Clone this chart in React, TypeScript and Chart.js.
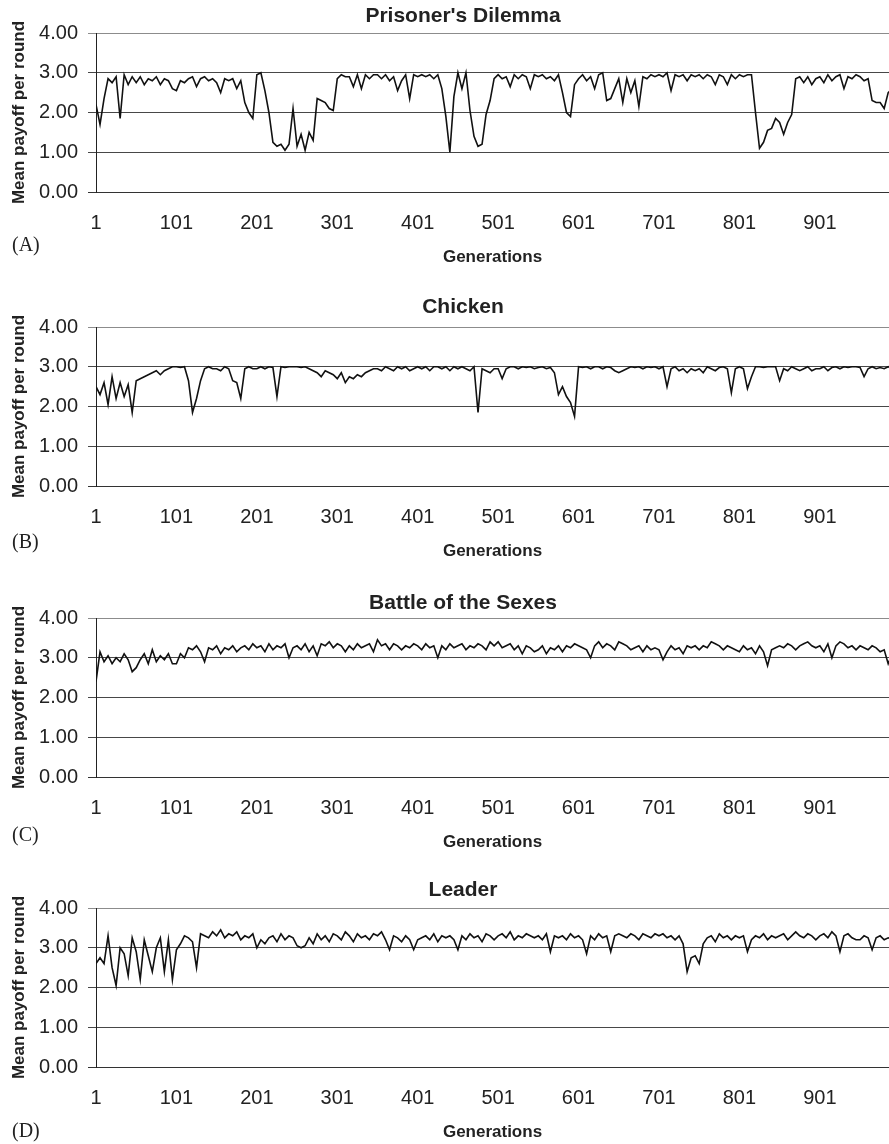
import React, { useEffect, useRef } from "react";
import { Chart, registerables } from "chart.js";

Chart.register(...registerables);

// ---------- DATA ----------
// generations sampled every 5 generations (1, 6, 11, ... 996)
const generations: number[] = Array.from({ length: 200 }, (_, i) => 1 + 5 * i);
const xTickLabels: number[] = [1, 101, 201, 301, 401, 501, 601, 701, 801, 901];
const yTickValues: number[] = [0, 1, 2, 3, 4];
const panelTitles: string[] = ["Prisoner's Dilemma", "Chicken", "Battle of the Sexes", "Leader"];
const panelLetters: string[] = ["(A)", "(B)", "(C)", "(D)"];
const xAxisTitle = "Generations";
const yAxisTitle = "Mean payoff per round";

const prisonersDilemma: number[] = [
  2.2, 1.7, 2.35, 2.85, 2.75, 2.9, 1.85, 2.95, 2.7, 2.9,
  2.75, 2.9, 2.7, 2.85, 2.8, 2.9, 2.7, 2.85, 2.8, 2.6,
  2.55, 2.8, 2.75, 2.85, 2.9, 2.65, 2.85, 2.9, 2.8, 2.85,
  2.75, 2.5, 2.85, 2.8, 2.85, 2.6, 2.8, 2.25, 2.0, 1.85,
  2.95, 3.0, 2.55, 2.0, 1.25, 1.15, 1.2, 1.05, 1.2, 2.1,
  1.15, 1.45, 1.05, 1.5, 1.3, 2.35, 2.3, 2.25, 2.1, 2.05,
  2.85, 2.95, 2.9, 2.9, 2.65, 2.95, 2.6, 2.95, 2.85, 2.95,
  2.95, 2.85, 2.95, 2.8, 2.9, 2.55, 2.8, 2.95, 2.35, 2.95,
  2.9, 2.95, 2.9, 2.95, 2.85, 2.95, 2.6, 1.9, 1.0, 2.4,
  3.0, 2.6, 3.0, 2.05, 1.4, 1.15, 1.2, 1.95, 2.3, 2.85,
  2.95, 2.85, 2.9, 2.65, 2.95, 2.85, 2.95, 2.9, 2.6, 2.95,
  2.9, 2.95, 2.85, 2.9, 2.8, 2.95, 2.5, 2.0, 1.9, 2.7,
  2.85, 2.95, 2.8, 2.9, 2.6, 2.95, 3.0, 2.3, 2.35, 2.6,
  2.85, 2.25, 2.85, 2.5, 2.8, 2.15, 2.9, 2.85, 2.95, 2.9,
  2.95, 2.9, 3.0, 2.55, 2.95, 2.9, 2.95, 2.8, 2.95, 2.9,
  2.95, 2.85, 2.95, 2.9, 2.7, 2.95, 2.9, 2.7, 2.95, 2.85,
  2.95, 2.9, 2.95, 2.95, 2.0, 1.1, 1.25, 1.55, 1.6, 1.85,
  1.75, 1.45, 1.75, 1.95, 2.85, 2.9, 2.75, 2.9, 2.7, 2.85,
  2.9, 2.75, 2.95, 2.8, 2.9, 2.95, 2.6, 2.9, 2.85, 2.95,
  2.9, 2.8, 2.85, 2.3, 2.25, 2.25, 2.1, 2.5, 2.6, 2.6,
];

const chicken: number[] = [
  2.5, 2.3, 2.6, 2.05, 2.75, 2.2, 2.6, 2.25, 2.55, 1.85,
  2.65, 2.7, 2.75, 2.8, 2.85, 2.9, 2.8, 2.9, 2.95, 3.0,
  3.0, 2.98, 3.0, 2.65, 1.85, 2.2, 2.65, 2.95, 3.0, 2.95,
  2.95, 2.9, 3.0, 2.95, 2.65, 2.6, 2.2, 2.95, 3.0, 2.95,
  2.95, 3.0, 2.95, 3.0, 2.98, 2.25, 3.0, 2.98, 3.0, 3.0,
  3.0, 2.98, 3.0, 2.95, 2.9, 2.85, 2.75, 2.9, 2.85, 2.8,
  2.7, 2.85, 2.6, 2.75, 2.7, 2.8, 2.75, 2.85, 2.9, 2.95,
  2.95, 2.9, 3.0, 2.95, 2.9, 3.0, 2.95, 3.0, 2.9, 2.95,
  3.0, 2.95, 3.0, 2.9, 3.0, 3.0, 2.95, 3.0, 2.9, 3.0,
  2.95, 3.0, 2.95, 2.9, 3.0, 1.85, 2.95, 2.9, 2.85, 2.95,
  2.95, 2.7, 2.95, 3.0, 3.0, 2.95, 3.0, 2.98, 3.0, 2.95,
  2.98, 3.0, 2.95, 2.98, 2.85, 2.3, 2.5, 2.25, 2.1, 1.75,
  3.0, 2.98, 3.0, 2.95, 3.0, 3.0, 2.95, 3.0, 2.98, 2.9,
  2.85, 2.9, 2.95, 3.0, 2.98, 3.0, 2.95, 3.0, 2.98, 3.0,
  2.95, 3.0, 2.5, 2.95, 3.0, 2.9, 2.95, 2.85, 2.95, 2.9,
  2.95, 2.85, 3.0, 2.95, 2.9, 2.98, 3.0, 2.95, 2.35, 2.95,
  3.0, 2.95, 2.45, 2.75, 3.0, 3.0, 2.98, 3.0, 3.0, 3.0,
  2.65, 2.95, 2.9, 3.0, 2.95, 2.9, 2.95, 3.0, 2.9, 2.95,
  2.95, 3.0, 2.9, 2.98, 3.0, 2.95, 3.0, 2.98, 3.0, 3.0,
  2.98, 2.75, 2.95, 3.0, 2.95, 2.98, 2.95, 3.0, 2.95, 2.95,
];

const battleOfTheSexes: number[] = [
  2.4, 3.15, 2.9, 3.05, 2.85, 3.0, 2.9, 3.1, 2.95, 2.65,
  2.75, 2.95, 3.1, 2.85, 3.2, 2.9, 3.05, 2.95, 3.1, 2.85,
  2.85, 3.1, 3.0, 3.25, 3.2, 3.3, 3.15, 2.9, 3.25, 3.2,
  3.3, 3.1, 3.25, 3.2, 3.3, 3.15, 3.25, 3.3, 3.2, 3.35,
  3.25, 3.3, 3.15, 3.35, 3.2, 3.3, 3.25, 3.35, 3.0, 3.25,
  3.3, 3.2, 3.35, 3.15, 3.3, 3.05, 3.35, 3.3, 3.4, 3.25,
  3.35, 3.3, 3.15, 3.3, 3.2, 3.35, 3.25, 3.3, 3.35, 3.15,
  3.45, 3.3, 3.35, 3.2, 3.35, 3.3, 3.2, 3.3, 3.25, 3.35,
  3.3, 3.2, 3.35, 3.25, 3.3, 3.0, 3.3, 3.2, 3.35, 3.25,
  3.3, 3.35, 3.2, 3.3, 3.25, 3.35, 3.3, 3.2, 3.4, 3.3,
  3.4, 3.25, 3.3, 3.35, 3.2, 3.3, 3.1, 3.3, 3.25, 3.15,
  3.2, 3.3, 3.1, 3.25, 3.2, 3.3, 3.15, 3.3, 3.25, 3.35,
  3.3, 3.25, 3.2, 3.0, 3.3, 3.4, 3.25, 3.35, 3.3, 3.2,
  3.4, 3.35, 3.3, 3.2, 3.25, 3.3, 3.15, 3.3, 3.2, 3.25,
  3.2, 2.95, 3.15, 3.3, 3.2, 3.25, 3.1, 3.3, 3.25, 3.3,
  3.2, 3.3, 3.25, 3.4, 3.35, 3.3, 3.2, 3.3, 3.25, 3.2,
  3.15, 3.3, 3.2, 3.25, 3.1, 3.3, 3.15, 2.8, 3.2, 3.25,
  3.3, 3.25, 3.35, 3.3, 3.2, 3.3, 3.35, 3.4, 3.3, 3.25,
  3.3, 3.15, 3.35, 3.0, 3.3, 3.4, 3.35, 3.25, 3.3, 3.2,
  3.3, 3.25, 3.2, 3.3, 3.25, 3.15, 3.2, 2.85, 3.1, 3.2,
];

const leader: number[] = [
  2.6, 2.75, 2.6, 3.3, 2.5, 2.05, 3.0, 2.85, 2.3, 3.25,
  2.9, 2.2, 3.2, 2.8, 2.4, 3.0, 3.25, 2.4, 3.2, 2.2,
  2.95, 3.1, 3.3, 3.25, 3.15, 2.5, 3.35, 3.3, 3.25, 3.4,
  3.3, 3.45, 3.25, 3.35, 3.3, 3.4, 3.2, 3.3, 3.25, 3.35,
  3.0, 3.2, 3.1, 3.25, 3.3, 3.15, 3.35, 3.2, 3.3, 3.25,
  3.05, 3.0, 3.05, 3.25, 3.1, 3.35, 3.2, 3.3, 3.15, 3.35,
  3.3, 3.2, 3.4, 3.3, 3.15, 3.35, 3.25, 3.3, 3.2, 3.35,
  3.3, 3.4, 3.2, 2.95, 3.3, 3.25, 3.15, 3.3, 3.2, 2.95,
  3.2, 3.25, 3.3, 3.2, 3.35, 3.15, 3.3, 3.25, 3.3, 3.2,
  2.95, 3.3, 3.2, 3.35, 3.25, 3.3, 3.15, 3.35, 3.3, 3.2,
  3.3, 3.35, 3.25, 3.4, 3.2, 3.3, 3.25, 3.35, 3.3, 3.25,
  3.3, 3.2, 3.35, 2.9, 3.3, 3.25, 3.3, 3.2, 3.35, 3.25,
  3.3, 3.2, 2.85, 3.3, 3.2, 3.35, 3.25, 3.3, 2.9, 3.3,
  3.35, 3.3, 3.25, 3.35, 3.3, 3.2, 3.35, 3.3, 3.25, 3.35,
  3.3, 3.35, 3.25, 3.3, 3.2, 3.3, 3.1, 2.4, 2.75, 2.8,
  2.6, 3.1, 3.25, 3.3, 3.15, 3.35, 3.25, 3.3, 3.2, 3.3,
  3.25, 3.3, 2.9, 3.2, 3.3, 3.25, 3.35, 3.2, 3.3, 3.25,
  3.3, 3.35, 3.2, 3.3, 3.4, 3.3, 3.25, 3.35, 3.3, 3.2,
  3.3, 3.35, 3.25, 3.4, 3.3, 2.9, 3.3, 3.35, 3.25, 3.2,
  3.2, 3.3, 3.25, 2.95, 3.25, 3.3, 3.2, 3.25, 3.2, 3.25,
];

const seriesList: number[][] = [prisonersDilemma, chicken, battleOfTheSexes, leader];

// ---------- LAYOUT ----------
const CANVAS_W = 889;
const CANVAS_H = 268;
const panelTops = [0, 294, 585, 875];
const titleOffsets = [-17, -20, -15, -18];
const letterOffsets = [54, 57, 59, 65];
const SANS = '"Liberation Sans", Arial, sans-serif';
const SERIF = '"Liberation Serif", "Times New Roman", serif';

function makePanelPlugin(title: string, letter: string, titleOff: number, letterOff: number) {
  return {
    id: "panelText",
    afterDraw(chart: any) {
      const { ctx, chartArea } = chart;
      ctx.save();
      ctx.fillStyle = "#222";
      ctx.font = `bold 21px ${SANS}`;
      ctx.textAlign = "center";
      ctx.textBaseline = "middle";
      ctx.fillText(title, 463, chartArea.top + titleOff);
      ctx.font = `20px ${SERIF}`;
      ctx.textAlign = "left";
      ctx.fillText(letter, 12, chartArea.bottom + letterOff);
      ctx.restore();
    },
  };
}

function gridColor(ctx: any) {
  const v = ctx.tick ? ctx.tick.value : null;
  if (v === 4) return "#8c8c8c";
  if (v === 0) return "#333";
  return "#474747";
}

function Panel({ index }: { index: number }) {
  const ref = useRef<HTMLCanvasElement | null>(null);
  useEffect(() => {
    const canvas = ref.current;
    if (!canvas) return;
    const values = seriesList[index];
    const points = values.map((v, i) => ({ x: generations[i], y: v }));
    const chart = new Chart(canvas, {
      type: "line",
      data: {
        datasets: [
          {
            data: points,
            borderColor: "#111",
            borderWidth: 1.6,
            pointRadius: 0,
            tension: 0,
            fill: false,
          },
        ],
      },
      options: {
        animation: false,
        responsive: false,
        devicePixelRatio: 1,
        layout: { padding: { top: 33, left: 0, right: 0, bottom: 0 } },
        plugins: { legend: { display: false }, tooltip: { enabled: false }, title: { display: false } },
        scales: {
          x: {
            type: "linear",
            min: 1,
            max: 987,
            afterBuildTicks: (scale: any) => {
              scale.ticks = xTickLabels.map((v) => ({ value: v }));
            },
            afterFit: (scale: any) => {
              scale.height = 76;
            },
            ticks: {
              autoSkip: false,
              maxRotation: 0,
              padding: 19,
              color: "#222",
              font: { family: SANS, size: 20 },
              callback: (v: any) => String(v),
            },
            grid: { display: false, drawTicks: false },
            border: { display: false },
            title: {
              display: true,
              text: xAxisTitle,
              color: "#222",
              font: { family: SANS, size: 17, weight: "bold" },
              padding: { top: 0, bottom: 0 },
            },
          },
          y: {
            min: 0,
            max: 4,
            afterBuildTicks: (scale: any) => {
              scale.ticks = yTickValues.map((v) => ({ value: v }));
            },
            afterFit: (scale: any) => {
              scale.width = 96;
            },
            ticks: {
              padding: 10,
              color: "#222",
              font: { family: SANS, size: 20 },
              callback: (v: any) => Number(v).toFixed(2),
            },
            grid: { color: gridColor, lineWidth: 1, tickLength: 8, drawTicks: true },
            border: { display: true, color: "#222", width: 1 },
            title: {
              display: true,
              text: yAxisTitle,
              color: "#222",
              font: { family: SANS, size: 17, weight: "bold" },
              padding: { top: 9, bottom: 0 },
            },
          },
        },
      },
      plugins: [makePanelPlugin(panelTitles[index], panelLetters[index], titleOffsets[index], letterOffsets[index])],
    } as any);
    return () => chart.destroy();
  }, [index]);
  return (
    <canvas
      ref={ref}
      width={CANVAS_W}
      height={CANVAS_H}
      style={{ position: "absolute", left: 0, top: panelTops[index], width: CANVAS_W, height: CANVAS_H }}
    />
  );
}

export default function App() {
  return (
    <div style={{ position: "absolute", left: 0, top: 0, width: CANVAS_W, height: 1144, background: "#fff" }}>
      {[0, 1, 2, 3].map((i) => (
        <Panel key={i} index={i} />
      ))}
    </div>
  );
}
